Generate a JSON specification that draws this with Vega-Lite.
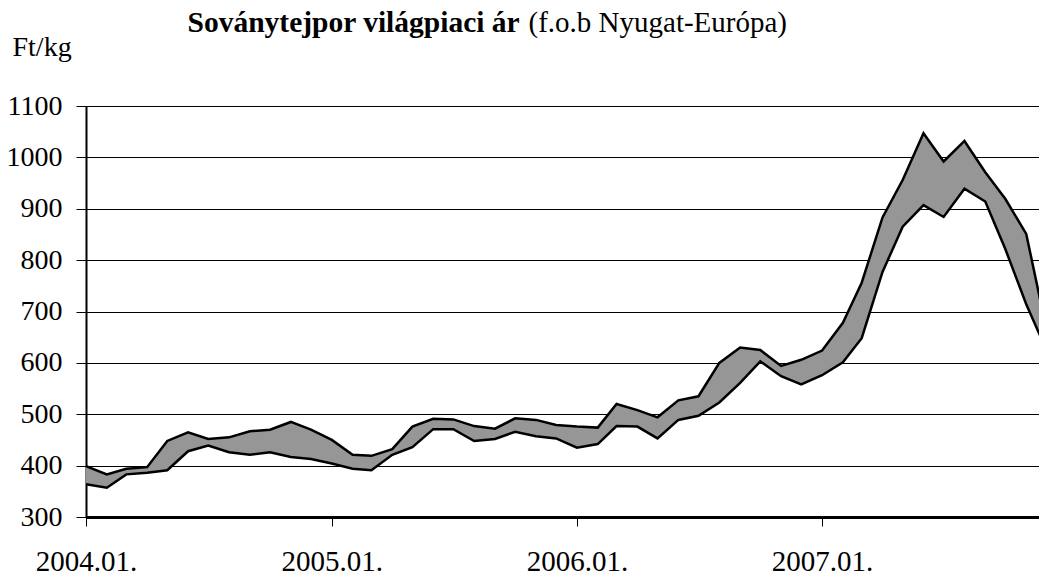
{
  "$schema": "https://vega.github.io/schema/vega-lite/v6.json",
  "width": 953,
  "height": 411,
  "autosize": {"type": "none"},
  "padding": {"left": 86, "top": 106, "right": 0, "bottom": 61},
  "background": "white",
  "config": {"view": {"stroke": null}, "font": "Liberation Serif"},
  "data": {
    "values": [
      {"date": "2004/01/01", "lo": 364, "hi": 399},
      {"date": "2004/02/01", "lo": 357, "hi": 383},
      {"date": "2004/03/01", "lo": 383, "hi": 394},
      {"date": "2004/04/01", "lo": 386, "hi": 397},
      {"date": "2004/05/01", "lo": 391, "hi": 448},
      {"date": "2004/06/01", "lo": 428, "hi": 465},
      {"date": "2004/07/01", "lo": 439, "hi": 452},
      {"date": "2004/08/01", "lo": 426, "hi": 455},
      {"date": "2004/09/01", "lo": 421, "hi": 467},
      {"date": "2004/10/01", "lo": 426, "hi": 470},
      {"date": "2004/11/01", "lo": 417, "hi": 485},
      {"date": "2004/12/01", "lo": 413, "hi": 470},
      {"date": "2005/01/01", "lo": 404, "hi": 450},
      {"date": "2005/02/01", "lo": 394, "hi": 421},
      {"date": "2005/03/01", "lo": 391, "hi": 419},
      {"date": "2005/04/01", "lo": 421, "hi": 432},
      {"date": "2005/05/01", "lo": 436, "hi": 476},
      {"date": "2005/06/01", "lo": 471, "hi": 491},
      {"date": "2005/07/01", "lo": 471, "hi": 490},
      {"date": "2005/08/01", "lo": 448, "hi": 477},
      {"date": "2005/09/01", "lo": 452, "hi": 472},
      {"date": "2005/10/01", "lo": 466, "hi": 492},
      {"date": "2005/11/01", "lo": 457, "hi": 489},
      {"date": "2005/12/01", "lo": 453, "hi": 479},
      {"date": "2006/01/01", "lo": 435, "hi": 476},
      {"date": "2006/02/01", "lo": 442, "hi": 474},
      {"date": "2006/03/01", "lo": 477, "hi": 520},
      {"date": "2006/04/01", "lo": 476, "hi": 508},
      {"date": "2006/05/01", "lo": 453, "hi": 494},
      {"date": "2006/06/01", "lo": 489, "hi": 527},
      {"date": "2006/07/01", "lo": 497, "hi": 535},
      {"date": "2006/08/01", "lo": 523, "hi": 600},
      {"date": "2006/09/01", "lo": 561, "hi": 630},
      {"date": "2006/10/01", "lo": 603, "hi": 625},
      {"date": "2006/11/01", "lo": 574, "hi": 594},
      {"date": "2006/12/01", "lo": 558, "hi": 606},
      {"date": "2007/01/01", "lo": 576, "hi": 624},
      {"date": "2007/02/01", "lo": 601, "hi": 678},
      {"date": "2007/03/01", "lo": 648, "hi": 756},
      {"date": "2007/04/01", "lo": 777, "hi": 883},
      {"date": "2007/05/01", "lo": 865, "hi": 956},
      {"date": "2007/06/01", "lo": 907, "hi": 1047},
      {"date": "2007/07/01", "lo": 884, "hi": 992},
      {"date": "2007/08/01", "lo": 939, "hi": 1032},
      {"date": "2007/09/01", "lo": 914, "hi": 971},
      {"date": "2007/10/01", "lo": 821, "hi": 919},
      {"date": "2007/11/01", "lo": 714, "hi": 851},
      {"date": "2007/12/01", "lo": 625, "hi": 666}
    ]
  },
  "layer": [
    {
      "mark": {"type": "area", "color": "#969696", "clip": true},
      "encoding": {
        "x": {
          "field": "date",
          "type": "temporal",
          "scale": {"domain": [{"year": 2004, "month": 1, "date": 1}, {"year": 2007, "month": 11, "date": 20}]},
          "axis": {
            "orient": "bottom",
            "title": null,
            "format": "%Y.%m.",
            "tickCount": {"interval": "year", "step": 1},
            "grid": false,
            "domain": true,
            "domainColor": "black",
            "domainWidth": 3,
            "ticks": true,
            "tickColor": "black",
            "tickWidth": 1,
            "tickSize": 9,
            "labelFont": "Liberation Serif",
            "labelFontSize": 29,
            "labelColor": "black",
            "labelPadding": 21,
            "labelBaseline": "top",
            "labelFlush": false,
            "labelOverlap": false
          }
        },
        "y": {
          "field": "lo",
          "type": "quantitative",
          "scale": {"domain": [300, 1100], "nice": false, "zero": false},
          "axis": {
            "values": [300, 400, 500, 600, 700, 800, 900, 1000, 1100],
            "format": "d",
            "grid": true,
            "gridColor": "black",
            "gridWidth": 1,
            "gridOpacity": 1,
            "domain": true,
            "domainColor": "black",
            "domainWidth": 2,
            "ticks": true,
            "tickColor": "black",
            "tickWidth": 1,
            "tickSize": 10,
            "labelFont": "Liberation Serif",
            "labelFontSize": 28,
            "labelColor": "black",
            "labelPadding": 14,
            "title": "Ft/kg",
            "titleFont": "Liberation Serif",
            "titleFontSize": 28,
            "titleFontWeight": "normal",
            "titleColor": "black",
            "titleAngle": 0,
            "titleAlign": "left",
            "titleBaseline": "alphabetic",
            "titleX": -74,
            "titleY": -51
          }
        },
        "y2": {"field": "hi"}
      }
    },
    {
      "mark": {"type": "line", "color": "black", "strokeWidth": 2.5, "clip": true},
      "encoding": {
        "x": {
          "field": "date",
          "type": "temporal",
          "axis": {
            "orient": "top",
            "labels": false,
            "ticks": false,
            "domain": false,
            "grid": false,
            "title": "(f.o.b Nyugat-Európa)",
            "titleFont": "Liberation Serif",
            "titleFontSize": 29,
            "titleFontWeight": "normal",
            "titleColor": "black",
            "titleAngle": 0,
            "titleAlign": "left",
            "titleBaseline": "alphabetic",
            "titleX": 442,
            "titleY": -75
          }
        },
        "y": {"field": "hi", "type": "quantitative", "axis": null}
      }
    },
    {
      "mark": {"type": "line", "color": "black", "strokeWidth": 2.5, "clip": true},
      "encoding": {
        "x": {"field": "date", "type": "temporal", "axis": null},
        "y": {
          "field": "lo",
          "type": "quantitative",
          "axis": {
            "orient": "right",
            "labels": false,
            "ticks": false,
            "domain": false,
            "grid": false,
            "title": "Soványtejpor világpiaci ár",
            "titleFont": "Liberation Serif",
            "titleFontSize": 29.5,
            "titleFontWeight": "bold",
            "titleColor": "black",
            "titleAngle": 0,
            "titleAlign": "left",
            "titleBaseline": "alphabetic",
            "titleX": -852,
            "titleY": -75
          }
        }
      }
    }
  ],
  "resolve": {"axis": {"x": "independent", "y": "independent"}}
}
